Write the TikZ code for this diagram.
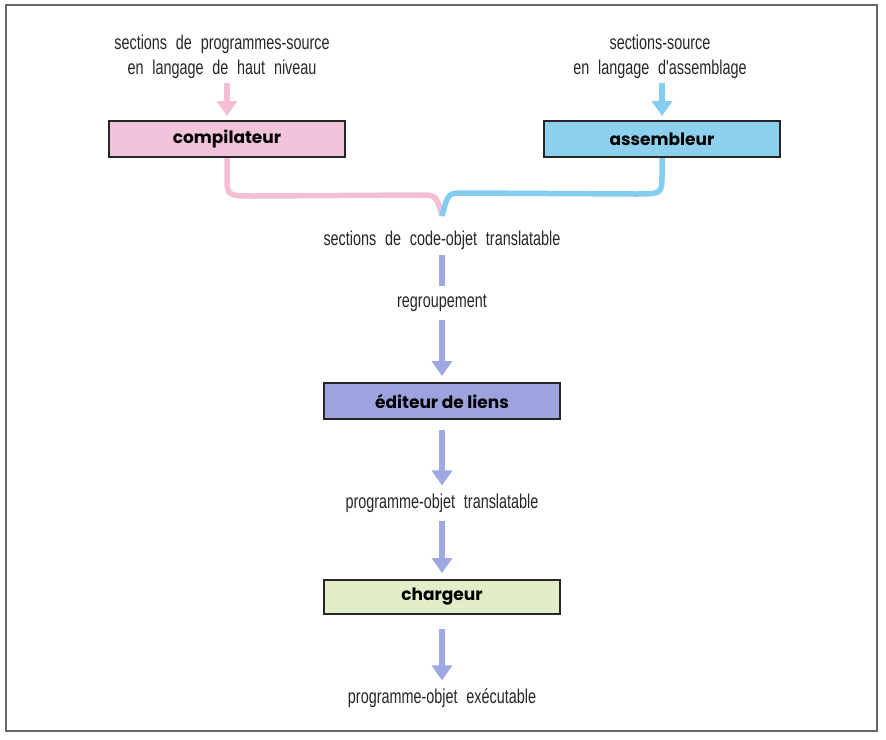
\documentclass[tikz,border=0pt]{standalone}
\usepackage{fontspec}
\setmainfont{Liberation Sans}
\newfontfamily\condfont[FakeStretch=0.72,WordSpace=2.2]{Liberation Sans}
\newfontfamily\boxfont{Poppins}
\usetikzlibrary{arrows.meta,calc,positioning}
\definecolor{rose}{RGB}{242,196,220}
\definecolor{ciel}{RGB}{140,208,238}
\definecolor{lavande}{RGB}{156,163,222}
\definecolor{tilleul}{RGB}{225,238,200}
\definecolor{rosetrait}{RGB}{244,190,214}
\definecolor{cieltrait}{RGB}{130,205,240}
\definecolor{lavtrait}{RGB}{160,168,228}

\begin{document}
\begin{tikzpicture}[x=1pt,y=-1pt,
		txt/.style={font=\condfont\fontsize{20}{25}\selectfont, text=black!85, align=center, inner sep=2pt},
		prog/.style={draw=black!85, line width=2pt, minimum width=236pt, minimum height=36pt, inner sep=0pt, font=\boxfont\bfseries\fontsize{17}{18}\selectfont},
		fl/.style={line width=5.5pt, -{Triangle[width=20pt,length=15pt]}},
		trait/.style={line width=5.5pt}]
		\useasboundingbox (0,0) rectangle (886,739);
		\draw[black!60, line width=1.2pt] (6,5) rectangle (877,731);
		% sources
		\node[txt] (srcH) at (222,57) {sections de programmes-source\\en langage de haut niveau};
		\node[txt] (srcA) at (660,57) {sections-source\\en langage d'assemblage};
		\node[prog, fill=rose] (comp) at (227,139) {compilateur};
		\node[prog, fill=ciel] (asm) at (662,139) {assembleur};
		\draw[fl, rosetrait] (comp.north |- 0,83) -- ($(comp.north)+(0,-4)$);
		\draw[fl, cieltrait] (asm.north |- 0,83) -- ($(asm.north)+(0,-4)$);
		% jonction
		\coordinate (jonc) at (442,216);
		\draw[trait, rosetrait] (comp.south) -- ++(0,18) .. controls ($(comp.south)+(0,38)$) .. ($(comp.south)+(28,38)$) -- (420,195) .. controls (436,195) .. (jonc);
		\draw[trait, cieltrait] (asm.south) -- ++(0,16) .. controls ($(asm.south)+(0,36)$) .. ($(asm.south)+(-28,36)$) -- (464,193) .. controls (448,193) .. (jonc);
		\node[txt] (obj) at (442,240) {sections de code-objet translatable};
		\node[txt] (regr) at (442,303) {regroupement};
		\node[prog, fill=lavande] (edit) at (442,401) {éditeur de liens};
		\node[txt] (pot) at (442,503) {programme-objet translatable};
		\node[prog, fill=tilleul, minimum height=34pt] (charg) at (442,597) {chargeur};
		\node[txt] (poe) at (442,698) {programme-objet exécutable};
		% chaine
		\draw[trait, lavtrait] ($(obj.south)+(0,3)$) -- ($(regr.north)+(0,-6)$);
		\draw[fl, lavtrait] ($(regr.south)+(0,6)$) -- ($(edit.north)+(0,-6)$);
		\draw[fl, lavtrait] ($(edit.south)+(0,10)$) -- ($(pot.north)+(0,-6)$);
		\draw[fl, lavtrait] ($(pot.south)+(0,6)$) -- ($(charg.north)+(0,-6)$);
		\draw[fl, lavtrait] ($(charg.south)+(0,14)$) -- ($(poe.north)+(0,-6)$);
	\end{tikzpicture}
\end{document}
